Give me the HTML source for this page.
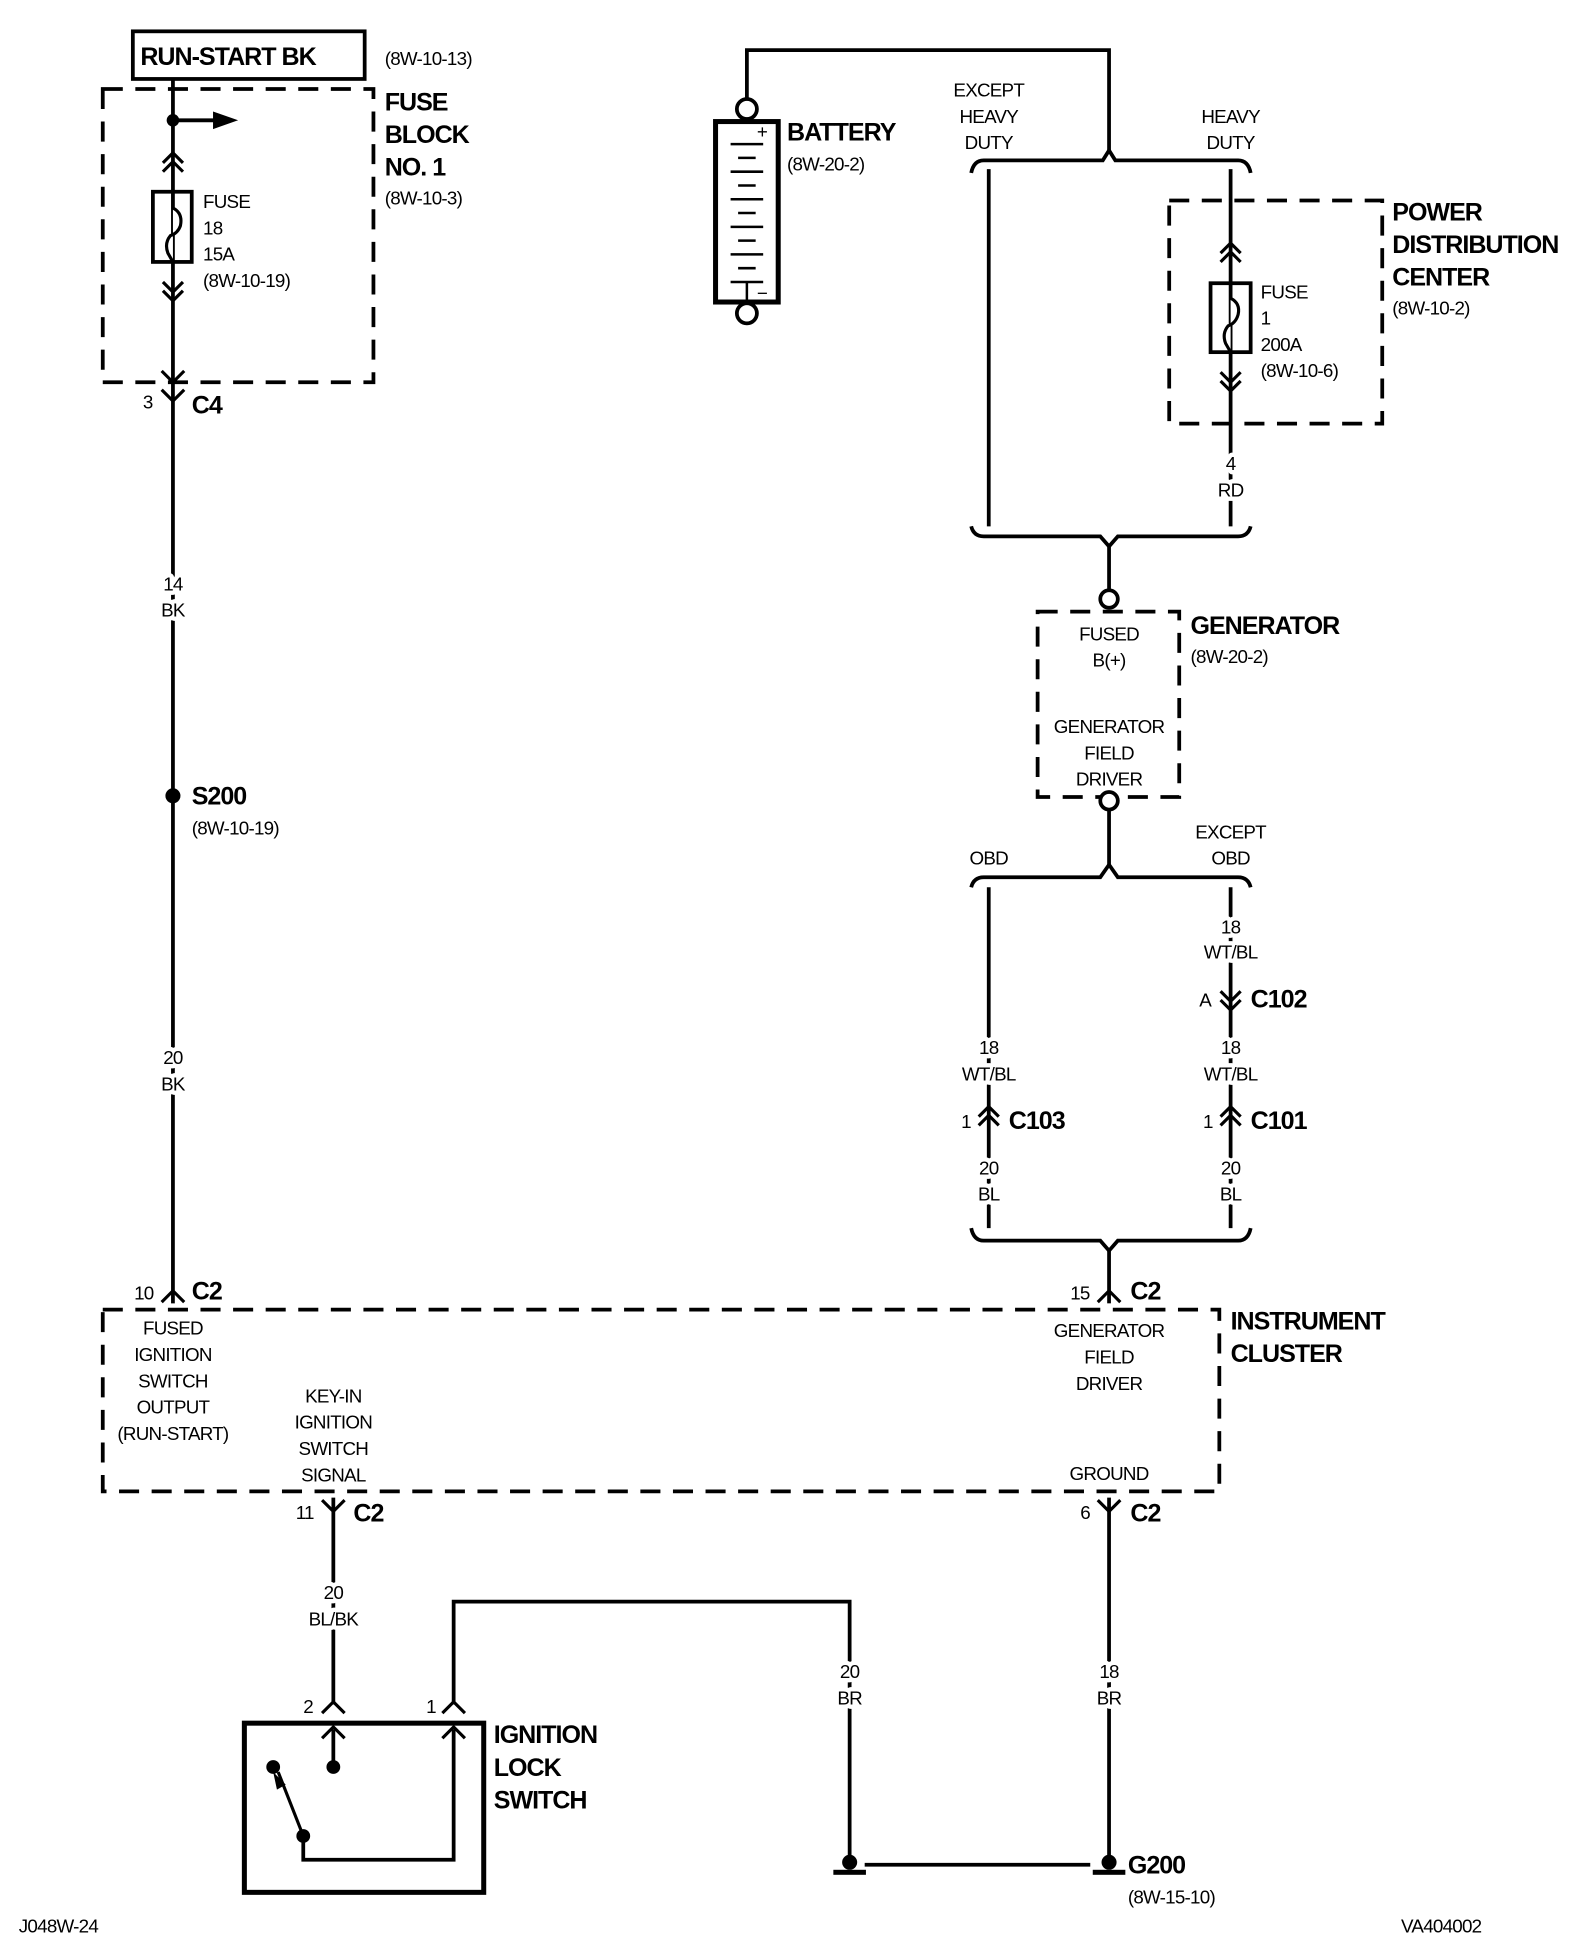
<!DOCTYPE html>
<html><head><meta charset="utf-8">
<style>
html,body{margin:0;padding:0;background:#fff;}
svg{display:block;}
text{font-family:"Liberation Sans",Arial,sans-serif;fill:#000;}
.s{font-size:15px;letter-spacing:-0.6px;}
.b{font-size:20px;font-weight:bold;letter-spacing:-0.8px;}
.c{text-anchor:middle;}
.w{stroke:#fff;stroke-width:7px;paint-order:stroke;stroke-linejoin:round;}
</style></head><body>
<svg width="1584" height="1950" viewBox="0 0 1264 1556" preserveAspectRatio="none" xmlns="http://www.w3.org/2000/svg">
<defs>
<g id="dup" fill="none" stroke="#000" stroke-width="2.5"><path d="M-8,8 L0,0 L8,8 M-8,15 L0,7 L8,15"/></g>
<g id="ddn" fill="none" stroke="#000" stroke-width="2.5"><path d="M-8,-8 L0,0 L8,-8 M-8,-15 L0,-7 L8,-15"/></g>
<g id="vdn" fill="none" stroke="#000" stroke-width="2.5"><path d="M-9,-9 L0,0 L9,-9"/></g>
<g id="vup" fill="none" stroke="#000" stroke-width="2.5"><path d="M-9,9 L0,0 L9,9"/></g>
</defs>
<g fill="none" stroke="#000" stroke-width="3">
<rect x="106" y="25" width="185" height="38"/>
<rect x="82" y="71" width="216" height="234" stroke-dasharray="16,10"/>
<line x1="138" y1="63" x2="138" y2="1040"/>
<line x1="138" y1="96" x2="172" y2="96"/>
<rect x="122" y="153" width="31" height="56"/>
<path d="M138,153 L138,166 Q146,170 144,180 Q142,186 136,188 Q131,194 134,202 L138,209" stroke-width="2.5" fill="#fff"/>
<rect x="82" y="1045" width="891" height="145" stroke-dasharray="16,10"/>
<line x1="266" y1="1195" x2="266" y2="1360"/>
<line x1="266" y1="1380" x2="266" y2="1410"/>
<rect x="195" y="1375" width="191" height="135" stroke-width="4"/>
<polyline points="242,1465 242,1484 362,1484 362,1380"/>
<line x1="242" y1="1465" x2="222" y2="1414" stroke-width="2.5"/>
<polyline points="362,1360 362,1278 678,1278 678,1488"/>
<line x1="885" y1="1195" x2="885" y2="1488"/>
<line x1="690" y1="1488" x2="870" y2="1488"/>
<polyline points="596,79 596,40 885,40 885,120"/>
<rect x="571" y="97" width="50" height="144" stroke-width="4"/>
<path d="M885,120 L880,128 L785,128 Q777,128 775,138 M885,120 L890,128 L988,128 Q996,128 998,138"/>
<line x1="789" y1="135" x2="789" y2="420"/>
<line x1="982" y1="135" x2="982" y2="420"/>
<rect x="933" y="160" width="170" height="178" stroke-dasharray="16,10"/>
<rect x="966" y="226" width="32" height="55"/>
<path d="M982,226 L982,238 Q990,242 988,251 Q986,258 980,260 Q975,266 978,274 L982,281" stroke-width="2.5" fill="#fff"/>
<path d="M775,420 Q777,428 785,428 L878,428 L885,436 L892,428 L988,428 Q996,428 998,420"/>
<line x1="885" y1="436" x2="885" y2="470"/>
<rect x="828" y="488" width="113" height="148" stroke-dasharray="16,10"/>
<line x1="885" y1="646" x2="885" y2="690"/>
<path d="M775,708 Q777,700 785,700 L878,700 L885,690 L892,700 L988,700 Q996,700 998,708"/>
<line x1="789" y1="708" x2="789" y2="980"/>
<line x1="982" y1="708" x2="982" y2="980"/>
<path d="M775,980 Q777,990 785,990 L878,990 L885,998 L892,990 L988,990 Q996,990 998,980"/>
<line x1="885" y1="998" x2="885" y2="1040"/>
</g>
<g stroke="#000" stroke-width="2">
<line x1="583" y1="115" x2="609" y2="115"/><line x1="589" y1="126" x2="603" y2="126"/>
<line x1="583" y1="137" x2="609" y2="137"/><line x1="589" y1="148" x2="603" y2="148"/>
<line x1="583" y1="159" x2="609" y2="159"/><line x1="589" y1="170" x2="603" y2="170"/>
<line x1="583" y1="181" x2="609" y2="181"/><line x1="589" y1="192" x2="603" y2="192"/>
<line x1="583" y1="203" x2="609" y2="203"/><line x1="589" y1="214" x2="603" y2="214"/>
<line x1="583" y1="225" x2="609" y2="225"/>
<line x1="596" y1="225" x2="596" y2="241"/>
</g>
<g fill="#fff" stroke="#000" stroke-width="3">
<circle cx="596" cy="87" r="8"/><circle cx="596" cy="250" r="8"/>
<circle cx="885" cy="478" r="7"/><circle cx="885" cy="639" r="7"/>
</g>
<g fill="#000">
<circle cx="138" cy="96" r="5"/>
<polygon points="170,89 190,96 170,103"/>
<circle cx="138" cy="635" r="6"/>
<circle cx="266" cy="1410" r="5.5"/>
<circle cx="218" cy="1410" r="5.5"/><circle cx="242" cy="1465" r="5.5"/>
<polygon points="218,1414 228,1424 221,1428"/>
<circle cx="678" cy="1486" r="6"/><rect x="665" y="1492" width="26" height="4"/>
<circle cx="885" cy="1486" r="6"/><rect x="872" y="1492" width="26" height="4"/>
</g>
<use href="#dup" x="138" y="122"/>
<use href="#ddn" x="138" y="240"/>
<use href="#vdn" x="138" y="305"/>
<g fill="none" stroke="#000" stroke-width="2.5"><path d="M129,311 L138,320 L147,311"/></g>
<use href="#vup" x="138" y="1030"/>
<use href="#vup" x="885" y="1030"/>
<g fill="none" stroke="#000" stroke-width="2.5">
<path d="M257,1197 L266,1206 L275,1197"/>
<path d="M876,1197 L885,1206 L894,1197"/>
</g>
<use href="#vup" x="266" y="1358"/>
<use href="#vup" x="362" y="1358"/>
<use href="#vup" x="266" y="1378"/>
<use href="#vup" x="362" y="1378"/>
<use href="#dup" x="982" y="194"/>
<use href="#ddn" x="982" y="312"/>
<use href="#ddn" x="982" y="806"/>
<use href="#dup" x="789" y="883"/>
<use href="#dup" x="982" y="883"/>
<text x="112" y="52" class="b">RUN-START BK</text>
<text x="307" y="52" class="s">(8W-10-13)</text>
<text x="307" y="88" class="b">FUSE</text>
<text x="307" y="114" class="b">BLOCK</text>
<text x="307" y="140" class="b">NO. 1</text>
<text x="307" y="163" class="s">(8W-10-3)</text>
<text x="162" y="166" class="s">FUSE</text>
<text x="162" y="187" class="s">18</text>
<text x="162" y="208" class="s">15A</text>
<text x="162" y="229" class="s">(8W-10-19)</text>
<text x="114" y="326" class="s">3</text>
<text x="153" y="330" class="b">C4</text>
<text x="138" y="471" class="s c w">14</text><text x="138" y="492" class="s c w">BK</text>
<text x="153" y="642" class="b">S200</text>
<text x="153" y="666" class="s">(8W-10-19)</text>
<text x="138" y="849" class="s c w">20</text><text x="138" y="870" class="s c w">BK</text>
<text x="107" y="1037" class="s">10</text>
<text x="153" y="1037" class="b">C2</text>
<text x="138" y="1065" class="s c">FUSED</text>
<text x="138" y="1086" class="s c">IGNITION</text>
<text x="138" y="1107" class="s c">SWITCH</text>
<text x="138" y="1128" class="s c">OUTPUT</text>
<text x="138" y="1149" class="s c">(RUN-START)</text>
<text x="266" y="1119" class="s c">KEY-IN</text>
<text x="266" y="1140" class="s c">IGNITION</text>
<text x="266" y="1161" class="s c">SWITCH</text>
<text x="266" y="1182" class="s c">SIGNAL</text>
<text x="236" y="1212" class="s">11</text>
<text x="282" y="1214" class="b">C2</text>
<text x="266" y="1276" class="s c w">20</text><text x="266" y="1297" class="s c w">BL/BK</text>
<text x="242" y="1367" class="s">2</text>
<text x="340" y="1367" class="s">1</text>
<text x="394" y="1391" class="b">IGNITION</text>
<text x="394" y="1417" class="b">LOCK</text>
<text x="394" y="1443" class="b">SWITCH</text>
<text x="678" y="1339" class="s c w">20</text><text x="678" y="1360" class="s c w">BR</text>
<text x="885" y="1339" class="s c w">18</text><text x="885" y="1360" class="s c w">BR</text>
<text x="900" y="1495" class="b">G200</text>
<text x="900" y="1519" class="s">(8W-15-10)</text>
<text x="862" y="1212" class="s">6</text>
<text x="902" y="1214" class="b">C2</text>
<text x="885" y="1181" class="s c">GROUND</text>
<text x="885" y="1067" class="s c">GENERATOR</text>
<text x="885" y="1088" class="s c">FIELD</text>
<text x="885" y="1109" class="s c">DRIVER</text>
<text x="982" y="1061" class="b">INSTRUMENT</text>
<text x="982" y="1087" class="b">CLUSTER</text>
<text x="854" y="1037" class="s">15</text>
<text x="902" y="1037" class="b">C2</text>
<text x="604" y="110" class="s">+</text>
<text x="604" y="239" class="s">−</text>
<text x="628" y="112" class="b">BATTERY</text>
<text x="628" y="136" class="s">(8W-20-2)</text>
<text x="789" y="77" class="s c">EXCEPT</text>
<text x="789" y="98" class="s c">HEAVY</text>
<text x="789" y="119" class="s c">DUTY</text>
<text x="982" y="98" class="s c">HEAVY</text>
<text x="982" y="119" class="s c">DUTY</text>
<text x="1111" y="176" class="b">POWER</text>
<text x="1111" y="202" class="b">DISTRIBUTION</text>
<text x="1111" y="228" class="b">CENTER</text>
<text x="1111" y="251" class="s">(8W-10-2)</text>
<text x="1006" y="238" class="s">FUSE</text>
<text x="1006" y="259" class="s">1</text>
<text x="1006" y="280" class="s">200A</text>
<text x="1006" y="301" class="s">(8W-10-6)</text>
<text x="982" y="375" class="s c w">4</text><text x="982" y="396" class="s c w">RD</text>
<text x="885" y="511" class="s c">FUSED</text>
<text x="885" y="532" class="s c">B(+)</text>
<text x="885" y="585" class="s c">GENERATOR</text>
<text x="885" y="606" class="s c">FIELD</text>
<text x="885" y="627" class="s c">DRIVER</text>
<text x="950" y="506" class="b">GENERATOR</text>
<text x="950" y="529" class="s">(8W-20-2)</text>
<text x="789" y="690" class="s c">OBD</text>
<text x="982" y="669" class="s c">EXCEPT</text>
<text x="982" y="690" class="s c">OBD</text>
<text x="982" y="745" class="s c w">18</text><text x="982" y="765" class="s c w">WT/BL</text>
<text x="957" y="803" class="s">A</text>
<text x="998" y="804" class="b">C102</text>
<text x="789" y="841" class="s c w">18</text><text x="789" y="862" class="s c w">WT/BL</text>
<text x="982" y="841" class="s c w">18</text><text x="982" y="862" class="s c w">WT/BL</text>
<text x="767" y="900" class="s">1</text>
<text x="805" y="901" class="b">C103</text>
<text x="960" y="900" class="s">1</text>
<text x="998" y="901" class="b">C101</text>
<text x="789" y="937" class="s c w">20</text><text x="789" y="958" class="s c w">BL</text>
<text x="982" y="937" class="s c w">20</text><text x="982" y="958" class="s c w">BL</text>
<text x="15" y="1542" class="s">J048W-24</text>
<text x="1118" y="1542" class="s">VA404002</text>
</svg>
</body></html>
